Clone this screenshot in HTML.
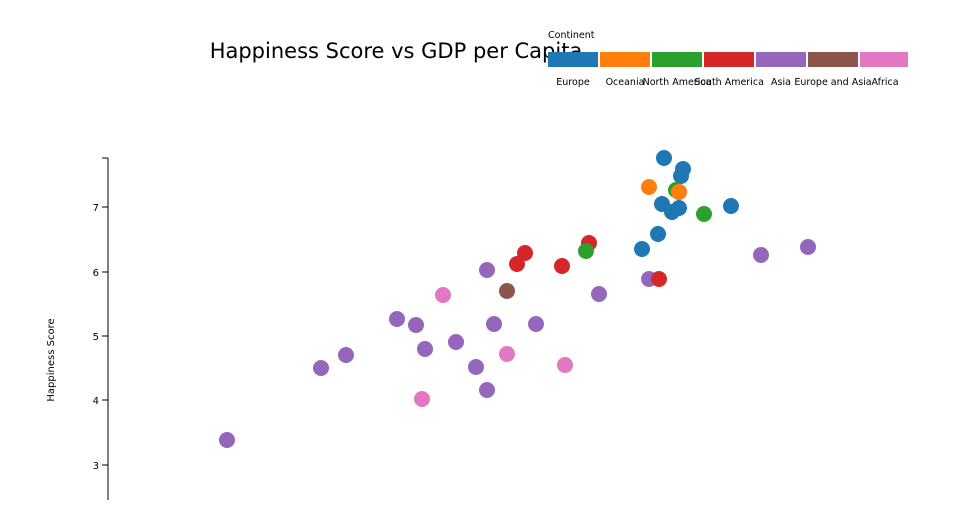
<!DOCTYPE html>
<html><head><meta charset="utf-8"><style>
html,body{margin:0;padding:0;background:#fff;}
text{font-family:"DejaVu Sans","Liberation Sans",sans-serif;}
</style></head><body>
<svg width="960" height="500" xmlns="http://www.w3.org/2000/svg">
<text x="396" y="58" font-size="21" text-anchor="middle" fill="#000">Happiness Score vs GDP per Capita</text>
<g font-size="9.5" fill="#000">
<text x="548" y="38">Continent</text>
<rect x="548" y="52" width="50" height="15" fill="#1f77b4"/>
<rect x="600" y="52" width="50" height="15" fill="#ff7f0e"/>
<rect x="652" y="52" width="50" height="15" fill="#2ca02c"/>
<rect x="704" y="52" width="50" height="15" fill="#d62728"/>
<rect x="756" y="52" width="50" height="15" fill="#9467bd"/>
<rect x="808" y="52" width="50" height="15" fill="#8c564b"/>
<rect x="860" y="52" width="48" height="15" fill="#e377c2"/>
<g text-anchor="middle">
<text x="573" y="85">Europe</text>
<text x="625" y="85">Oceania</text>
<text x="677" y="85">North America</text>
<text x="729" y="85">South America</text>
<text x="781" y="85">Asia</text>
<text x="833" y="85">Europe and Asia</text>
<text x="885" y="85">Africa</text>
</g>
</g>
<g stroke="#000" stroke-width="1">
<line x1="108" y1="158" x2="108" y2="500"/>
<line x1="102" y1="158" x2="108" y2="158"/>
<line x1="102" y1="207" x2="108" y2="207"/>
<line x1="102" y1="272" x2="108" y2="272"/>
<line x1="102" y1="336" x2="108" y2="336"/>
<line x1="102" y1="400" x2="108" y2="400"/>
<line x1="102" y1="465" x2="108" y2="465"/>
</g>
<g font-size="10" text-anchor="end" fill="#000">
<text x="99" y="211">7</text>
<text x="99" y="276">6</text>
<text x="99" y="340">5</text>
<text x="99" y="404">4</text>
<text x="99" y="469">3</text>
</g>
<text transform="translate(54,360) rotate(-90)" font-size="10" text-anchor="middle">Happiness Score</text>
<g fill="#9467bd">
<circle cx="487" cy="270" r="8"/><circle cx="649" cy="279" r="8"/><circle cx="599" cy="294" r="8"/>
<circle cx="397" cy="319" r="8"/><circle cx="416" cy="325" r="8"/><circle cx="494" cy="324" r="8"/>
<circle cx="536" cy="324" r="8"/><circle cx="425" cy="349" r="8"/><circle cx="456" cy="342" r="8"/>
<circle cx="346" cy="355" r="8"/><circle cx="321" cy="368" r="8"/><circle cx="476" cy="367" r="8"/>
<circle cx="487" cy="390" r="8"/><circle cx="761" cy="255" r="8"/><circle cx="808" cy="247" r="8"/>
<circle cx="227" cy="440" r="8"/>
</g>
<g fill="#e377c2">
<circle cx="443" cy="295" r="8"/><circle cx="507" cy="354" r="8"/><circle cx="565" cy="365" r="8"/><circle cx="422" cy="399" r="8"/>
</g>
<circle cx="507" cy="291" r="8" fill="#8c564b"/>
<g fill="#d62728">
<circle cx="589" cy="243" r="8"/><circle cx="525" cy="253" r="8"/><circle cx="517" cy="264" r="8"/><circle cx="562" cy="266" r="8"/><circle cx="659" cy="279" r="8"/>
</g>
<g fill="#1f77b4">
<circle cx="664" cy="158" r="8"/><circle cx="683" cy="169" r="8"/><circle cx="681" cy="176" r="8"/>
<circle cx="679" cy="192" r="8"/><circle cx="662" cy="204" r="8"/><circle cx="672" cy="212" r="8"/>
<circle cx="679" cy="208" r="8"/><circle cx="731" cy="206" r="8"/><circle cx="658" cy="234" r="8"/>
<circle cx="642" cy="249" r="8"/>
</g>
<g fill="#2ca02c">
<circle cx="676" cy="190" r="8"/><circle cx="704" cy="214" r="8"/><circle cx="586" cy="251" r="8"/>
</g>
<g fill="#ff7f0e">
<circle cx="649" cy="187" r="8"/><circle cx="679" cy="192" r="8"/>
</g>
</svg>
</body></html>
